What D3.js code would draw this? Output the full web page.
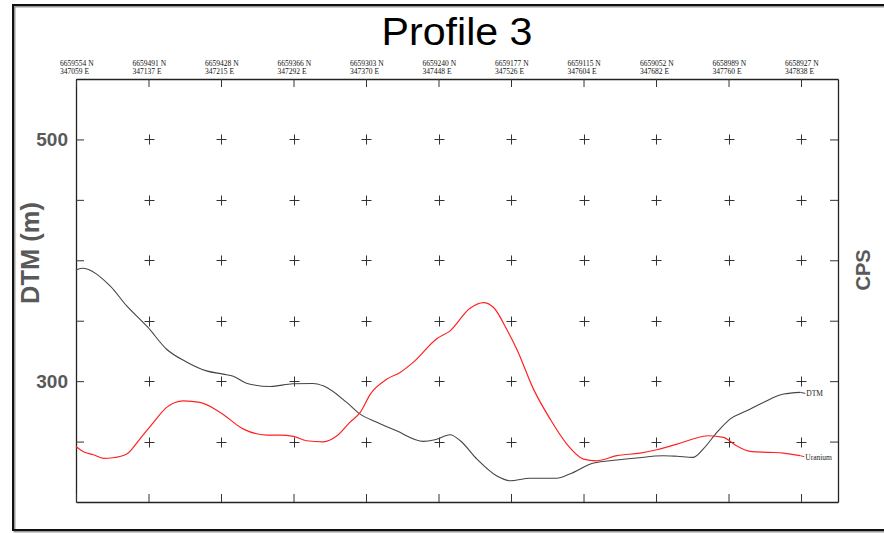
<!DOCTYPE html>
<html>
<head>
<meta charset="utf-8">
<script src="https://cdn.jsdelivr.net/npm/d3@7"></script>
<style>
  html, body { margin: 0; padding: 0; background: #fff; }
  svg { display: block; }
</style>
</head>
<body>
<svg id="chart" width="884" height="533"></svg>
<script>
// ---- data ----
const title = "Profile 3";
const distTicks = [0, 100, 200, 300, 400, 500, 600, 700, 800, 900, 1000];
const northings = ["6659554 N","6659491 N","6659428 N","6659366 N","6659303 N","6659240 N","6659177 N","6659115 N","6659052 N","6658989 N","6658927 N"];
const eastings  = ["347059 E","347137 E","347215 E","347292 E","347370 E","347448 E","347526 E","347604 E","347682 E","347760 E","347838 E"];
const dtmTicks = [250, 300, 350, 400, 450, 500];
const dtmLabelled = [300, 500];

const dtmDist = [0, 8, 47, 70, 99, 125, 153, 180, 203, 217, 235, 268, 299, 327, 341, 373, 392, 415, 442, 479, 495, 516, 530, 553, 580, 599, 626, 663, 681, 714, 746, 773, 810, 829, 851, 865, 884, 902, 925, 948, 976, 999];
const dtmVal  = [392.0, 393.4, 378.8, 362.2, 344.6, 326.4, 315.7, 308.5, 305.8, 304.1, 298.3, 295.6, 297.8, 298.1, 296.1, 282.6, 272.7, 265.9, 258.9, 250.2, 251.5, 255.6, 250.7, 235.5, 221.7, 217.6, 219.6, 219.6, 223.1, 232.2, 234.7, 236.4, 238.3, 237.8, 236.9, 243.8, 257.6, 268.6, 275.5, 282.4, 289.3, 290.7];

const uDist = [0, 12, 24, 38, 51, 70, 88, 107, 125, 148, 171, 199, 231, 263, 281, 300, 318, 341, 360, 378, 392, 406, 429, 447, 465, 498, 516, 543, 562, 576, 594, 608, 631, 654, 677, 700, 718, 746, 778, 801, 829, 851, 872, 893, 911, 930, 957, 976, 999];
const uCps  = [46.0, 41.1, 39.1, 36.1, 36.6, 39.7, 52.1, 65.9, 78.3, 83.7, 82.4, 74.1, 60.3, 55.4, 55.4, 54.3, 50.7, 49.8, 54.8, 66.1, 74.1, 89.3, 101.7, 107.2, 115.5, 135.3, 141.6, 160.1, 165.0, 160.9, 143.0, 126.4, 93.4, 68.6, 47.9, 35.5, 34.1, 38.3, 40.5, 43.2, 47.9, 52.1, 54.8, 53.5, 46.5, 41.9, 41.1, 40.5, 38.3];

// ---- layout ----
const svg = d3.select("#chart");
const L = 76, R = 838, T = 79, B = 502;

// outer frame
svg.append("rect").attr("x", 14.5).attr("y", 6.5).attr("width", 880).attr("height", 525)
  .attr("fill", "none").attr("stroke", "#999").attr("stroke-width", 2);
svg.append("rect").attr("x", 13).attr("y", 5).attr("width", 880).attr("height", 525)
  .attr("fill", "none").attr("stroke", "#111").attr("stroke-width", 2);

const x = d3.scaleLinear().domain([0, 1051]).range([L, R]);
const y = d3.scaleLinear().domain([200, 550]).range([B, T]);
const yC = d3.scaleLinear().domain([0, 350]).range([B, T]);

// crosses
const crossG = svg.append("g").attr("stroke", "#333").attr("stroke-width", 1);
distTicks.slice(1).forEach(d => {
  dtmTicks.forEach(v => {
    const cx = Math.round(x(d)) + 0.5, cy = Math.round(y(v)) + 0.5;
    crossG.append("line").attr("x1", cx - 5).attr("x2", cx + 5).attr("y1", cy).attr("y2", cy);
    crossG.append("line").attr("x1", cx).attr("x2", cx).attr("y1", cy - 5).attr("y2", cy + 5);
  });
});

// axes
function styleAxis(g) {
  g.select(".domain").attr("stroke", "#222").attr("stroke-width", 1.3);
  g.selectAll(".tick line").attr("stroke", "#333").attr("stroke-width", 1);
}
svg.append("g").attr("transform", `translate(${L},0)`)
  .call(d3.axisLeft(y).tickValues(dtmTicks).tickSize(-8).tickSizeOuter(0).tickPadding(8)
    .tickFormat(v => dtmLabelled.includes(v) ? v : ""))
  .call(styleAxis)
  .call(g => g.selectAll(".tick text").attr("font-family", "Liberation Sans, Arial, sans-serif")
    .attr("font-size", 19).attr("font-weight", "bold").attr("fill", "#595959"));

svg.append("g").attr("transform", `translate(${R},0)`)
  .call(d3.axisRight(yC).tickValues(dtmTicks.map(v => v - 200)).tickSize(-8).tickSizeOuter(0).tickFormat(""))
  .call(styleAxis);

svg.append("g").attr("transform", `translate(0,${B})`)
  .call(d3.axisBottom(x).tickValues(distTicks).tickSize(-8).tickSizeOuter(0).tickFormat(""))
  .call(styleAxis);

svg.append("g").attr("transform", `translate(0,${T})`)
  .call(d3.axisTop(x).tickValues(distTicks).tickSize(-8).tickSizeOuter(0).tickFormat(""))
  .call(styleAxis);

// top coordinate labels
const topLab = svg.append("g").attr("font-family", "Liberation Serif, Times New Roman, serif")
  .attr("font-size", 7.5).attr("fill", "#111");
distTicks.forEach((d, i) => {
  topLab.append("text").attr("x", x(d) - 16).attr("y", 66).text(northings[i]);
  topLab.append("text").attr("x", x(d) - 16).attr("y", 74).text(eastings[i]);
});

// lines
const lineDtm = d3.line().x((d, i) => x(dtmDist[i])).y(d => y(d)).curve(d3.curveMonotoneX);
const lineU = d3.line().x((d, i) => x(uDist[i])).y(d => yC(d)).curve(d3.curveMonotoneX);
svg.append("path").attr("d", lineDtm(dtmVal)).attr("fill", "none").attr("stroke", "#444").attr("stroke-width", 1.1);
svg.append("path").attr("d", lineU(uCps)).attr("fill", "none").attr("stroke", "#ff2222").attr("stroke-width", 1.2);

// end labels
const endLab = svg.append("g").attr("font-family", "Liberation Serif, Times New Roman, serif").attr("font-size", 7.5).attr("fill", "#222");
const dl = dtmDist.length - 1, ul = uDist.length - 1;
svg.append("line").attr("x1", x(dtmDist[dl])).attr("y1", y(dtmVal[dl])).attr("x2", x(dtmDist[dl]) + 5).attr("y2", y(dtmVal[dl]) + 1)
  .attr("stroke", "#444");
endLab.append("text").attr("x", x(dtmDist[dl]) + 6).attr("y", y(dtmVal[dl]) + 4).text("DTM");
svg.append("line").attr("x1", x(uDist[ul])).attr("y1", yC(uCps[ul])).attr("x2", x(uDist[ul]) + 4).attr("y2", yC(uCps[ul]) + 1)
  .attr("stroke", "#ff2222");
endLab.append("text").attr("x", x(uDist[ul]) + 5).attr("y", yC(uCps[ul]) + 4).text("Uranium");

// titles
svg.append("text").attr("x", 457).attr("y", 45).attr("text-anchor", "middle")
  .attr("font-family", "Liberation Sans, Arial, sans-serif").attr("font-size", 38).attr("fill", "#000")
  .attr("textLength", 151).attr("lengthAdjust", "spacingAndGlyphs").text(title);

svg.append("text").attr("transform", "translate(39,253) rotate(-90)").attr("text-anchor", "middle")
  .attr("font-family", "Liberation Sans, Arial, sans-serif").attr("font-size", 25.5).attr("font-weight", "bold")
  .attr("fill", "#595959").text("DTM (m)");

svg.append("text").attr("transform", "translate(870,270) rotate(-90)").attr("text-anchor", "middle")
  .attr("font-family", "Liberation Sans, Arial, sans-serif").attr("font-size", 20).attr("font-weight", "bold")
  .attr("fill", "#595959").text("CPS");
</script>
</body>
</html>
